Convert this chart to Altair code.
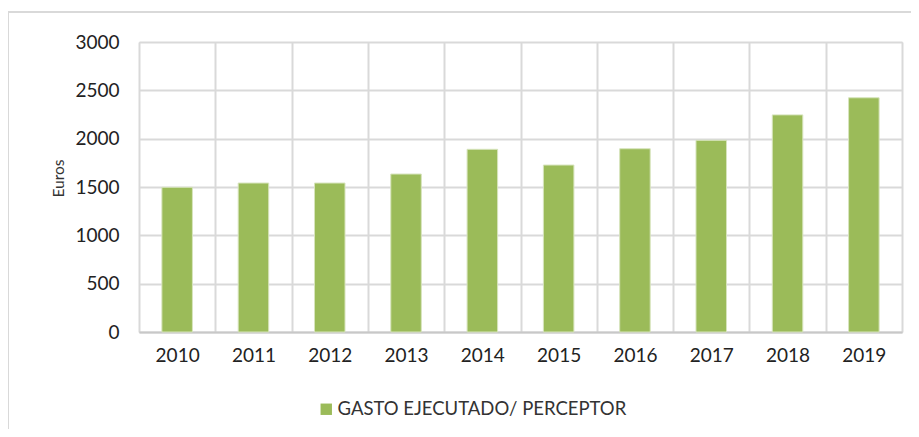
import altair as alt
import pandas as pd

years = ["2010", "2011", "2012", "2013", "2014", "2015", "2016", "2017", "2018", "2019"]
values = [1497, 1541, 1541, 1634, 1890, 1727, 1896, 1983, 2246, 2423]
series_name = "GASTO EJECUTADO/ PERCEPTOR"
y_ticks = [0, 500, 1000, 1500, 2000, 2500, 3000]

df = pd.DataFrame({"year": years, "value": values, "serie": [series_name] * len(years)})

FONT = "Lato"
W, H = 763, 290

bars = alt.Chart(df).mark_bar(stroke="#d7e4bd", strokeWidth=1,
                              width=alt.RelativeBandSize(0.4)).encode(
    x=alt.X("year:N",
            scale=alt.Scale(paddingInner=0, paddingOuter=0),
            axis=alt.Axis(title=None, labelAngle=0, labelFontSize=19, labelFont=FONT,
                          labelColor="#222222", labelPadding=14, ticks=False,
                          tickBand="extent", grid=True, gridColor="#d9d9d9", gridWidth=2,
                          domain=True, domainColor="#c8c8c8", domainWidth=2)),
    y=alt.Y("value:Q",
            scale=alt.Scale(domain=[0, 3000], nice=False),
            axis=alt.Axis(title="Euros", values=y_ticks, format="d", labelFontSize=19,
                          labelFont=FONT, labelColor="#222222", labelPadding=20, ticks=False,
                          domain=False, grid=True, gridColor="#d9d9d9", gridWidth=2,
                          titleFont=FONT, titleFontSize=15.5, titleFontWeight="normal",
                          titleColor="#333333", titlePadding=8, titleY=136)),
    color=alt.Color("serie:N", scale=alt.Scale(range=["#9BBB59"]),
                    legend=alt.Legend(title=None, orient="none", legendX=178, legendY=358,
                                      symbolType="square", symbolSize=130, symbolStrokeWidth=0,
                                      labelFont=FONT, labelFontSize=18.5, labelColor="#333333",
                                      labelOffset=2, labelLimit=0)),
)

frame_top = alt.Chart(df).mark_rule(color="#d9d9d9", strokeWidth=1.5).encode(
    x=alt.value(-131), x2=alt.value(800), y=alt.value(-30)
)
frame_left = alt.Chart(df).mark_rule(color="#d9d9d9", strokeWidth=1.5).encode(
    x=alt.value(-131), y=alt.value(-30), y2=alt.value(420)
)

chart = alt.layer(bars, frame_top, frame_left).properties(
    width=W, height=H,
    autosize=alt.AutoSizeParams(type="none"),
    padding={"left": 131, "top": 34, "right": 9, "bottom": 97},
).configure_view(stroke=None).configure(background="white")

chart.save("out.html", embed_options={"renderer": "svg", "actions": False})
